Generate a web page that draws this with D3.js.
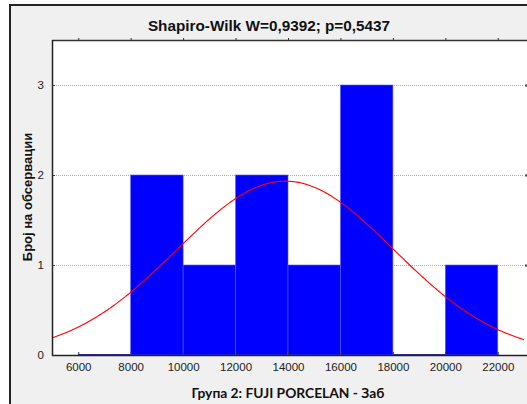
<!DOCTYPE html>
<html><head><meta charset="utf-8">
<script src="https://cdn.jsdelivr.net/npm/d3@7"></script>
<style>body{margin:0;background:#fff;}svg{display:block;}</style>
</head><body>
<svg id="c" width="527" height="404"></svg>
<script>
// Data
const binStarts = [6000, 8000, 10000, 12000, 14000, 16000, 18000, 20000];
const binWidth = 2000;
const counts = [0, 2, 1, 2, 1, 3, 0, 1];
const xTicks = [6000, 8000, 10000, 12000, 14000, 16000, 18000, 20000, 22000];
const yTicks = [0, 1, 2, 3];
const nObs = 10;
const fitMean = 13900;
const fitSD = 4130;
const titleText = "Shapiro-Wilk W=0,9392; p=0,5437";
const xLabel = "Група 2: FUJI PORCELAN - Заб";
const yLabel = "Број на обсервации";

const svg = d3.select("#c");
const L = 52, R = 524, T = 40, B = 355;
const x = d3.scaleLinear().domain([5000, 23000]).range([L, R]);
const y = d3.scaleLinear().domain([0, 3.5]).range([B, T]);

// outer panel
svg.append("rect").attr("x", 0).attr("y", 0).attr("width", 527).attr("height", 404).attr("fill", "#fff");
svg.append("rect").attr("x", 10).attr("y", 5).attr("width", 530).attr("height", 420)
  .attr("fill", "#f0f0f0").attr("stroke", "#222").attr("stroke-width", 2);
// plot area
svg.append("rect").attr("x", L).attr("y", T).attr("width", 540 - L).attr("height", B - T).attr("fill", "#fff");

// grid lines
svg.append("g").selectAll("line").data(yTicks.filter(d => d > 0)).join("line")
  .attr("x1", L).attr("x2", R).attr("y1", d => y(d) + 0.5).attr("y2", d => y(d) + 0.5)
  .attr("stroke", "#aaa").attr("stroke-width", 1).attr("stroke-dasharray", "1,1");

// bars
svg.append("g").selectAll("rect").data(binStarts.map((s, i) => ({s, c: counts[i]}))).join("rect")
  .attr("x", d => x(d.s)).attr("width", d => x(d.s + binWidth) - x(d.s))
  .attr("y", d => d.c > 0 ? y(d.c) : B - 1).attr("height", d => d.c > 0 ? B - y(d.c) : 1)
  .attr("fill", d => d.c > 0 ? "#0000ff" : "#3030a0")
  .attr("stroke", d => d.c > 0 ? "#5a5aff" : "none").attr("stroke-width", 0.6);

// normal curve
const pts = d3.range(5000, 23001, 50).map(v => [v, nObs * binWidth / (fitSD * Math.sqrt(2 * Math.PI)) * Math.exp(-0.5 * ((v - fitMean) / fitSD) ** 2)]);
svg.append("path").datum(pts)
  .attr("d", d3.line().x(d => x(d[0])).y(d => y(d[1])))
  .attr("fill", "none").attr("stroke", "#ff0000").attr("stroke-width", 1.1);

// axes lines
svg.append("line").attr("x1", L).attr("x2", 527).attr("y1", T + 0.5).attr("y2", T + 0.5).attr("stroke", "#333").attr("stroke-width", 1.5);
svg.append("line").attr("x1", L).attr("x2", 527).attr("y1", B + 0.5).attr("y2", B + 0.5).attr("stroke", "#222").attr("stroke-width", 1.5);
svg.append("line").attr("x1", L + 0.5).attr("x2", L + 0.5).attr("y1", T).attr("y2", B + 1).attr("stroke", "#222").attr("stroke-width", 1.5);

// x ticks (bottom inward, top outward)
const xb = svg.append("g").attr("transform", `translate(0,${B})`)
  .call(d3.axisBottom(x).tickValues(xTicks).tickFormat(d3.format("d")).tickSize(0).tickPadding(8));
xb.select(".domain").remove();
xb.selectAll("text").attr("font-family", "Liberation Sans, Arial, sans-serif").attr("font-size", 11.5).attr("fill", "#222");
svg.append("g").selectAll("line").data(xTicks).join("line")
  .attr("x1", d => x(d) + 0.5).attr("x2", d => x(d) + 0.5).attr("y1", B - 3).attr("y2", B)
  .attr("stroke", "#333");
svg.append("g").selectAll("line").data(xTicks).join("line")
  .attr("x1", d => x(d) + 0.5).attr("x2", d => x(d) + 0.5).attr("y1", T - 2).attr("y2", T + 1)
  .attr("stroke", "#333");

// y ticks
const yl = svg.append("g").attr("transform", `translate(${L},0)`)
  .call(d3.axisLeft(y).tickValues(yTicks).tickFormat(d3.format("d")).tickSize(0).tickPadding(8));
yl.select(".domain").remove();
yl.selectAll("text").attr("font-family", "Liberation Sans, Arial, sans-serif").attr("font-size", 11.5).attr("fill", "#222");
svg.append("g").selectAll("line").data(yTicks).join("line")
  .attr("x1", L).attr("x2", L + 3).attr("y1", d => y(d) + 0.5).attr("y2", d => y(d) + 0.5)
  .attr("stroke", "#333");
svg.append("g").selectAll("rect").data(yTicks.filter(d => d > 0)).join("rect")
  .attr("x", R + 1).attr("y", d => y(d) - 0.5).attr("width", 3).attr("height", 2).attr("fill", "#444");

// texts
svg.append("text").attr("x", 269).attr("y", 31).attr("text-anchor", "middle")
  .attr("font-family", "Liberation Sans, Arial, sans-serif").attr("font-weight", "bold").attr("font-size", 15.3)
  .attr("fill", "#111").text(titleText);
svg.append("text").attr("x", 288).attr("y", 398).attr("text-anchor", "middle")
  .attr("font-family", "Lato, 'Open Sans', sans-serif").attr("font-weight", "bold").attr("font-size", 13.8)
  .attr("fill", "#111").text(xLabel);
svg.append("text").attr("transform", "translate(32,197) rotate(-90)").attr("text-anchor", "middle")
  .attr("font-family", "Liberation Sans, Arial, sans-serif").attr("font-weight", "bold").attr("font-size", 13)
  .attr("fill", "#111").text(yLabel);
</script>
</body></html>
